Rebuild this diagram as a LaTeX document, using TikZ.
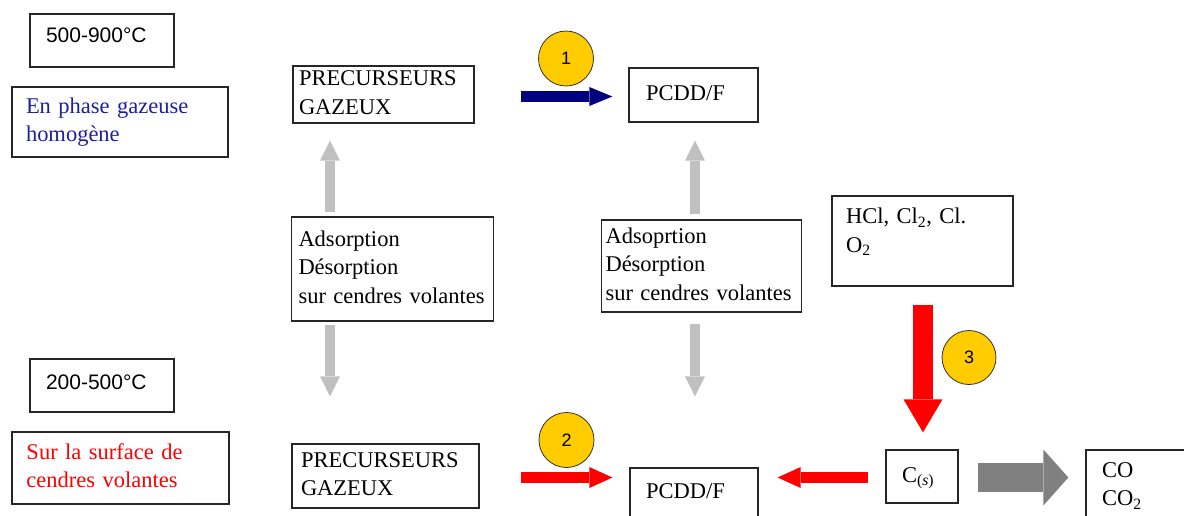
\documentclass[tikz,border=0pt]{standalone}
\usepackage{fontspec}
\setmainfont{Liberation Serif}
\newfontfamily\sansf{Liberation Sans}
\usetikzlibrary{arrows.meta,calc}
\definecolor{txtblue}{RGB}{30,30,160}
\definecolor{navyarr}{RGB}{0,0,128}
\definecolor{lgray}{RGB}{192,192,192}
\definecolor{dgray}{RGB}{128,128,128}
\definecolor{gold}{RGB}{255,204,0}
\newcommand\padlow[1]{\rule[-#1]{0pt}{0pt}}
\begin{document}
\begin{tikzpicture}[x=1pt,y=-1pt,
  box/.style={draw=black!85, line width=1.3pt, align=left, inner ysep=0pt,
    font=\fontsize{22.5}{28.5}\selectfont,
    execute at begin node=\strut, execute at end node=\strut},
  tbox/.style={draw=black!85, line width=1.3pt, align=left, inner ysep=0pt,
    font=\sansf\fontsize{21}{25}\selectfont},
  num/.style={circle, draw=black!80, line width=0.8pt, fill=gold,
    minimum size=55pt, inner sep=0pt, font=\sansf\fontsize{18}{20}\selectfont},
  grayarr/.style={draw=lgray, line width=10pt,
    -{Triangle[width=20pt,length=20pt,line width=0pt]}},
  bluearr/.style={draw=navyarr, line width=10.5pt,
    -{Triangle[width=19pt,length=23pt,line width=0pt]}},
  redarr/.style={draw=red, line width=11pt,
    -{Triangle[width=21pt,length=23pt,line width=0pt]}},
  bigred/.style={draw=red, line width=20pt,
    -{Triangle[width=39pt,length=33pt,line width=0pt]}},
  biggray/.style={draw=dgray, line width=29pt,
    -{Triangle[width=56pt,length=25pt,line width=0pt]}}
]
\clip (0,0) rectangle (1184,515);

% left column labels
\node[tbox, text width=112pt, inner xsep=16pt, minimum height=53pt] (t1) at (102,40.5) {500-900°C\padlow{10pt}};
\node[box, text=txtblue, text width=188pt, inner xsep=14pt, minimum height=70pt] (ph1) at (120,122) {En phase gazeuse\\homogène};
\node[tbox, text width=112pt, inner xsep=16pt, minimum height=53pt] (t2) at (102,385.5) {200-500°C\padlow{6pt}};
\node[box, text=red, text width=188pt, inner xsep=14.5pt, minimum height=72pt] (ph2) at (120.5,468) {Sur la surface de\\cendres volantes};

% main boxes
\node[box, text width=169pt, inner xsep=6pt, minimum height=57pt] (pg1) at (383.5,94.5) {PRECURSEURS\\GAZEUX};
\node[box, text width=95pt, inner xsep=17pt, minimum height=54pt] (pc1) at (693.5,95) {PCDD/F};
\node[box, text width=188pt, inner xsep=7pt, minimum height=104pt] (ad1) at (392.5,269) {Adsorption\\Désorption\\sur cendres volantes};
\node[box, text width=192pt, inner xsep=4pt, minimum height=92pt] (ad2) at (701.5,266) {Adsoprtion\\Désorption\\sur cendres volantes};
\node[box, text width=153pt, inner xsep=14pt, minimum height=90pt] (hcl) at (922.5,241) {HCl, Cl\textsubscript{2}, Cl.\\O\textsubscript{2}\padlow{25.5pt}};
\node[box, text width=169pt, inner xsep=9pt, minimum height=64pt] (pg2) at (385.5,476) {PRECURSEURS\\GAZEUX};
\node[box, text width=96pt, inner xsep=16pt, minimum height=50pt] (pc2) at (694,493) {PCDD/F};
\node[box, text width=40pt, inner xsep=16pt, minimum height=53pt] (cs) at (922,476.5) {C\textsubscript{(\textit{s})}};
\node[box, text width=98pt, inner xsep=16pt, minimum height=72pt] (co) at (1151,486) {CO\\CO\textsubscript{2}};

% numbered circles
\node[num] (c1) at (566,58.5) {1};
\node[num] (c2) at (566.5,440) {2};
\node[num, minimum size=54pt] (c3) at (969,357.5) {3};

% helper coordinates
\coordinate (colL) at (330,0);
\coordinate (colR) at (695,0);
\coordinate (colC) at (923,0);
\coordinate (rowA) at (0,96.5);
\coordinate (rowB) at (0,477.5);

% grey adsorption/desorption arrows
\draw[grayarr, shorten <=4pt, shorten >=17pt] (ad1.north -| colL) -- (pg1.south -| colL);
\draw[grayarr, shorten <=3pt, shorten >=47pt] (ad1.south -| colL) -- (pg2.north -| colL);
\draw[grayarr, shorten <=5pt, shorten >=18pt] (ad2.north -| colR) -- (pc1.south -| colR);
\draw[grayarr, shorten <=11pt, shorten >=71pt] (ad2.south -| colR) -- (pc2.north -| colR);

% reaction arrows
\draw[bluearr, shorten <=46pt, shorten >=16pt] (pg1.east |- rowA) -- (pc1.west |- rowA);
\draw[redarr, shorten <=41pt, shorten >=17pt] (pg2.east |- rowB) -- (pc2.west |- rowB);
\draw[redarr, shorten <=17pt, shorten >=19pt] (cs.west |- rowB) -- (pc2.east |- rowB);
\draw[bigred, shorten <=18pt, shorten >=17pt] (hcl.south -| colC) -- (cs.north -| colC);
\draw[biggray, shorten <=19pt, shorten >=17pt] (cs.east |- rowB) -- (co.west |- rowB);
\end{tikzpicture}
\end{document}
